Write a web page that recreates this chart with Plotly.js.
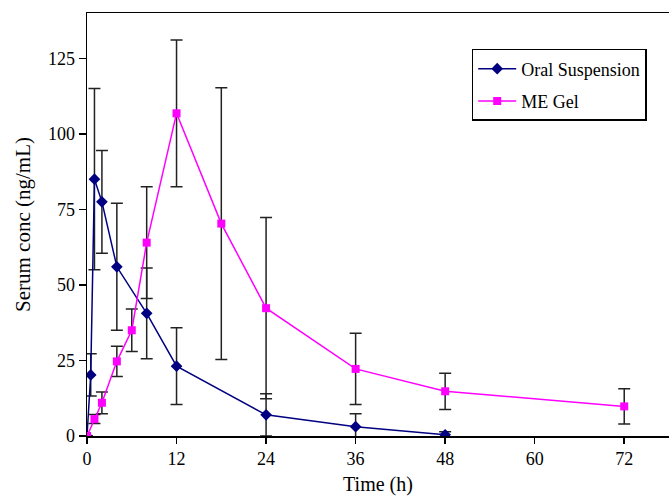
<!DOCTYPE html>
<html>
<head>
<meta charset="utf-8">
<script src="https://cdn.plot.ly/plotly-3.0.1.min.js"></script>
<style>html,body{margin:0;padding:0;background:#fff;}#chart{width:669px;height:496px;}</style>
</head>
<body>
<div id="chart"></div>
<script>
const oralTime = [0, 0.5, 1, 2, 4, 8, 12, 24, 36, 48];
const oralConc = [0, 20.2, 85, 77.5, 56, 40.6, 23.1, 7.0, 3.1, 0.4];
const oralErr  = [0, 7, 30, 17, 21, 15, 12.7, 7, 4.3, 1];

const gelTime = [0, 1, 2, 4, 6, 8, 12, 18, 24, 36, 48, 72];
const gelConc = [0, 5.6, 11, 24.7, 35, 64, 106.8, 70.3, 42.3, 22.2, 14.8, 9.8];
const gelErr  = [0, 1.5, 3.6, 5, 7, 18.5, 24.3, 45, 30, 11.8, 6, 5.8];

const xTicks = [0, 12, 24, 36, 48, 60, 72];
const yTicks = [0, 25, 50, 75, 100, 125];

const font = {family: '"Liberation Serif", "Times New Roman", serif', color: '#000'};

const traces = [
  {
    x: oralTime, y: oralConc, name: 'Oral Suspension', type: 'scatter', mode: 'lines+markers',
    legendgroup: 'a',
    line: {color: '#000080', width: 1.5},
    marker: {symbol: 'diamond', size: 9, color: '#000080'},
    error_y: {type: 'data', array: oralErr, visible: true, color: '#222', thickness: 1.5, width: 6}
  },
  {
    x: gelTime, y: gelConc, name: 'ME Gel', type: 'scatter', mode: 'lines+markers',
    legendgroup: 'b',
    line: {color: '#FF00FF', width: 1.5},
    marker: {symbol: 'square', size: 8, color: '#FF00FF'},
    error_y: {type: 'data', array: gelErr, visible: true, color: '#222', thickness: 1.5, width: 6}
  }
];

const layout = {
  width: 669, height: 496,
  margin: {l: 87, r: 0, t: 13, b: 60},
  paper_bgcolor: '#fff', plot_bgcolor: '#fff',
  font: Object.assign({size: 18}, font),
  showlegend: true,
  legend: {
    x: 0.661, y: 0.915, xanchor: 'left', yanchor: 'top',
    bordercolor: '#000', borderwidth: 1.5, bgcolor: '#fff',
    font: Object.assign({size: 18}, font),
    traceorder: 'grouped', tracegroupgap: 6, itemwidth: 38
  },
  xaxis: {
    range: [0, 78], tickvals: xTicks, ticktext: xTicks.map(String),
    showgrid: false, zeroline: false,
    showline: true, linecolor: '#000', linewidth: 1.5, mirror: true,
    ticks: 'outside', ticklen: 6, tickwidth: 1.5, tickcolor: '#000',
    tickfont: Object.assign({size: 18}, font),
    title: {text: 'Time (h)', font: Object.assign({size: 20}, font), standoff: 10}
  },
  yaxis: {
    range: [0, 140], tickvals: yTicks, ticktext: yTicks.map(String),
    showgrid: false, zeroline: false,
    showline: true, linecolor: '#000', linewidth: 1.5, mirror: false,
    ticks: 'outside', ticklen: 7, tickwidth: 1.5, tickcolor: '#000',
    tickfont: Object.assign({size: 18}, font),
    title: {text: 'Serum conc (ng/mL)', font: Object.assign({size: 21}, font), standoff: 11}
  }
};

Plotly.newPlot('chart', traces, layout, {displayModeBar: false, staticPlot: true});
</script>
</body>
</html>
